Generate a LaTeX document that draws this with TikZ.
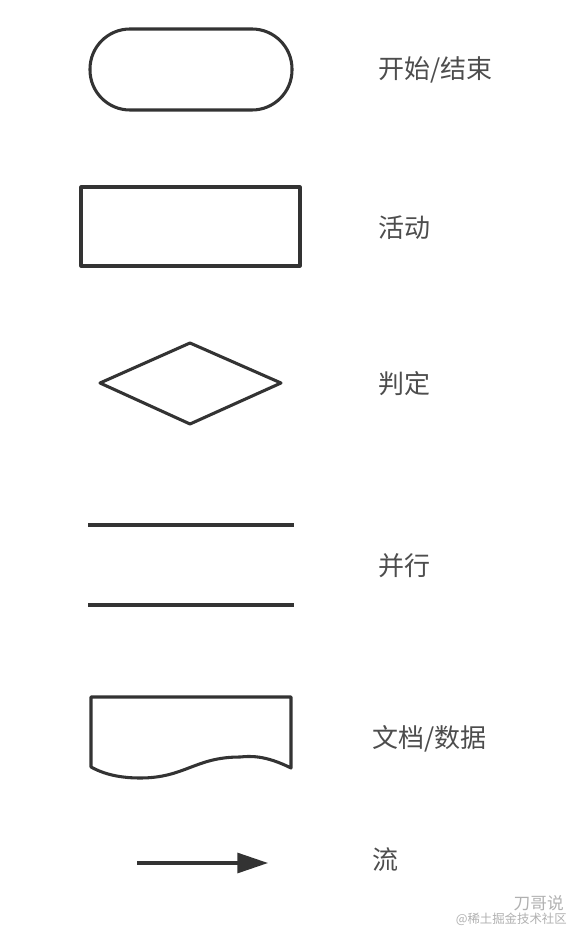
\documentclass[tikz,border=0pt]{standalone}
\usepackage{fontspec}
\setmainfont{Noto Sans CJK SC}
\usetikzlibrary{arrows.meta}
\definecolor{shape}{HTML}{333333}
\definecolor{label}{HTML}{4D4D4D}
\definecolor{wm}{HTML}{B0B0B0}
\begin{document}
\begin{tikzpicture}[x=0.75pt,y=-0.75pt,
  sym/.style={draw=shape,line width=2.3pt,line join=round},
  lbl/.style={text=label,font=\fontsize{19.5}{21}\selectfont,anchor=west,inner sep=0pt},
  wmtext/.style={text=wm,anchor=east,inner sep=0pt}]
\useasboundingbox (0,0) rectangle (570,930);
% terminator
\draw[sym,rounded corners=30] (90,29) rectangle (292,110);
\node[lbl] (tl) at (378,70) {开始/结束};
% activity
\draw[sym] (81,187) rectangle (300,266);
\node[lbl] (al) at (378,228) {活动};
% decision
\draw[sym] (100,383) -- (190,343) -- (281,383) -- (190,424) -- cycle;
\node[lbl] (dl) at (378,384) {判定};
% parallel
\coordinate (p1a) at (88,525); \coordinate (p1b) at (294,525);
\coordinate (p2a) at (88,605); \coordinate (p2b) at (294,605);
\draw[sym] (p1a) -- (p1b);
\draw[sym] (p2a) -- (p2b);
\node[lbl] (pl) at (378,566) {并行};
% document
\draw[sym] (91,767) -- (91,697) -- (291,697) -- (291,768)
  .. controls (265,755) and (250,756) .. (240,757)
  .. controls (195,757) and (185,778) .. (140,778)
  .. controls (115,778) and (100,772) .. (91,767) -- cycle;
\node[lbl] (docl) at (372,739) {文档/数据};
% flow
\coordinate (fa) at (137,863);
\coordinate (fb) at (268,863);
\draw[draw=shape,line width=2.3pt,-{Triangle[length=23pt,width=15pt]}] (fa) -- (fb);
\node[lbl] (fl) at (372,860) {流};
% watermark
\node[wmtext,font=\fontsize{12.5}{14}\selectfont] (w1) at (564,903) {刀哥说};
\node[wmtext,font=\fontsize{9.3}{11}\selectfont] (w2) at (567,919) {@稀土掘金技术社区};
\end{tikzpicture}
\end{document}
